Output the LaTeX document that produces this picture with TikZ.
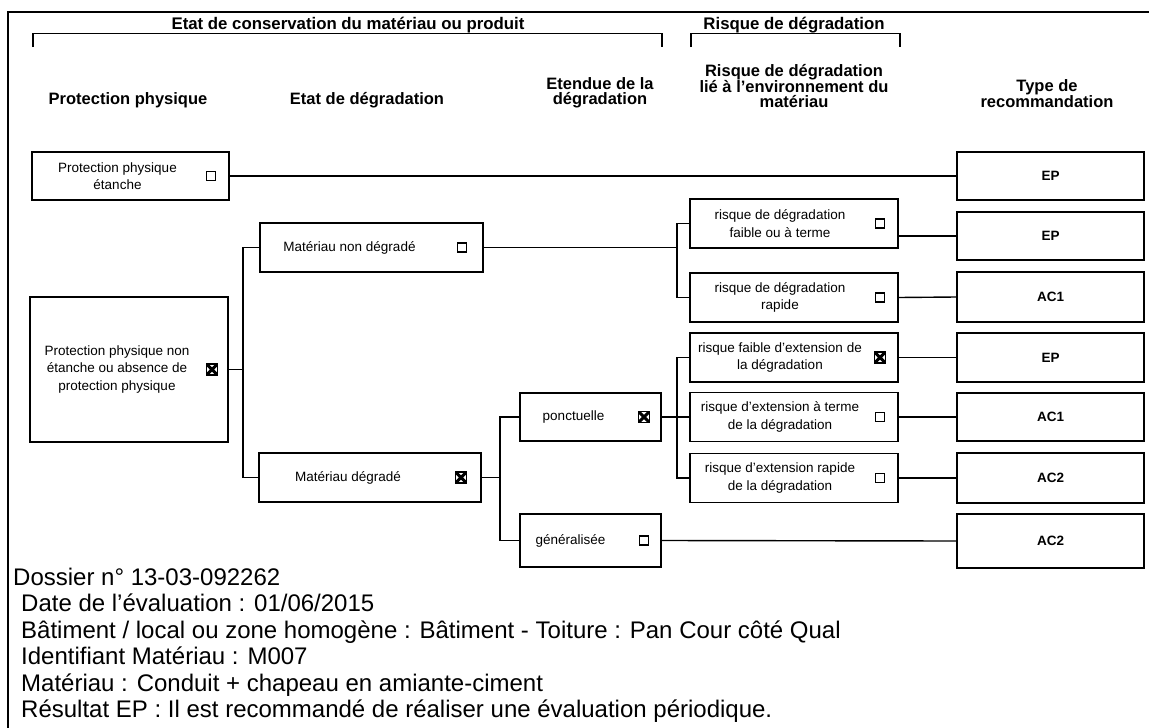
\documentclass[tikz,border=0pt]{standalone}
\usepackage{fontspec}
\setmainfont{Liberation Sans}
\usetikzlibrary{positioning,calc}

\newcommand{\fsz}[2]{\fontsize{#1}{#2}\selectfont}

\begin{document}
\begin{tikzpicture}[x=1pt, y=-1pt,
  box/.style={draw, line width=1.8pt, inner sep=0pt},
  txt/.style={font=\fsz{13.5}{17.5}, align=center, inner sep=0pt},
  head/.style={font=\bfseries\fsz{16.5}{15}, align=center, inner sep=0pt, anchor=south},
  rec/.style={box, minimum width=187pt, font=\bfseries\fsz{13.5}{15}},
  chk/.style={draw, line width=1.6pt, minimum size=9pt, inner sep=0pt},
  chkx/.style={chk, minimum size=11pt, path picture={\draw[line width=3pt]
    (path picture bounding box.south west) -- (path picture bounding box.north east)
    (path picture bounding box.north west) -- (path picture bounding box.south east);}},
  wire/.style={line width=1.4pt}]
 \useasboundingbox (0,0) rectangle (1149,728);

 % Frame
 \draw[wire] (8,728) -- (8,12) -- (1149,12);

 % Group titles
 \node[font=\bfseries\fsz{16.8}{16}, inner sep=0pt] (grpetat) at (348,25) {Etat de conservation du matériau ou produit};
 \node[font=\bfseries\fsz{16.8}{16}, inner sep=0pt] (grprisq) at (794,25) {Risque de dégradation};
 \draw[wire] (33,47) -- (33,33.5) -- (662,33.5) -- (662,47);
 \draw[wire] (691,47) -- (691,33.5) -- (900,33.5) -- (900,47);

 % Column headers
 \node[head] (hprot) at (128,108) {Protection physique};
 \node[head] (hetat) at (367,108) {Etat de dégradation};
 \node[head] (hext) at (600,108) {Etendue de la\\dégradation};
 \node[head] (henv) at (794,108) {Risque de dégradation\\lié à l'environnement du\\matériau};
 \node[head] (htype) at (1047,108) {Type de\\recommandation};

 % Protection physique
 \node[box, minimum width=197pt, minimum height=48pt] (pe) at (130.5,176) {};
 \node[txt] (pet) at ([xshift=-13pt]pe.center) {Protection physique\\étanche};
 \node[chk] (pec) at ([xshift=-19pt]pe.east) {};
 \node[box, minimum width=198pt, minimum height=145pt] (pne) at (129,369.5) {};
 \node[txt] (pnet) at ([xshift=-12pt]pne.center) {Protection physique non\\étanche ou absence de\\protection physique};
 \node[chkx] (pnec) at ([xshift=-17pt]pne.east) {};

 % Etat de degradation
 \node[box, minimum width=223pt, minimum height=49pt] (nd) at (371.5,247.5) {};
 \node[txt] (ndt) at ([xshift=-22pt]nd.center) {Matériau non dégradé};
 \node[chk] (ndc) at ([xshift=-22pt]nd.east) {};
 \node[box, minimum width=222pt, minimum height=49pt] (dg) at (370,477.5) {};
 \node[txt] (dgt) at ([xshift=-22pt]dg.center) {Matériau dégradé};
 \node[chkx] (dgc) at ([xshift=-21pt]dg.east) {};

 % Etendue
 \node[box, minimum width=141pt, minimum height=48pt] (pc) at (590.5,417) {};
 \node[txt] (pct) at ([xshift=-17pt]pc.center) {ponctuelle};
 \node[chkx] (pcc) at ([xshift=-18pt]pc.east) {};
 \node[box, minimum width=141pt, minimum height=53pt] (gn) at (590.5,540.5) {};
 \node[txt] (gnt) at ([xshift=-20pt]gn.center) {généralisée};
 \node[chk] (gnc) at ([xshift=-18pt]gn.east) {};

 % Risque lie a l'environnement
 \foreach \n/\y/\t in {r1/223.5/{risque de dégradation\\faible ou à terme},
                       r2/297.5/{risque de dégradation\\rapide},
                       r3/357.5/{risque faible d'extension de\\la dégradation},
                       r4/417/{risque d'extension à terme\\de la dégradation},
                       r5/478/{risque d'extension rapide\\de la dégradation}}{
   \node[box, minimum width=208pt, minimum height=49pt] (\n) at (794,\y) {};
   \node[txt] (\n t) at ([xshift=-14pt]\n.center) {\t};
 }
 \node[chk] (r1c) at ([xshift=-19pt]r1.east) {};
 \node[chk] (r2c) at ([xshift=-19pt]r2.east) {};
 \node[chkx] (r3c) at ([xshift=-19pt]r3.east) {};
 \node[chk] (r4c) at ([xshift=-19pt]r4.east) {};
 \node[chk] (r5c) at ([xshift=-19pt]r5.east) {};

 % Type de recommandation
 \node[rec, minimum height=48pt] (e1) at (1050.5,176) {EP};
 \node[rec, minimum height=48pt] (e2) at (1050.5,236) {EP};
 \node[rec, minimum height=50pt] (a1) at (1050.5,297) {AC1};
 \node[rec, minimum height=49pt] (e3) at (1050.5,357.5) {EP};
 \node[rec, minimum height=48pt] (a1b) at (1050.5,417) {AC1};
 \node[rec, minimum height=50pt] (a2) at (1050.5,478) {AC2};
 \node[rec, minimum height=54pt] (a2b) at (1050.5,541) {AC2};

 % Connectors
 \coordinate (busa) at (243,0);
 \coordinate (busb) at (500,0);
 \coordinate (busc) at (677,0);
 \draw[wire] (pe.east) -- (e1.west);
 \draw[wire] (pne.east) -- (pne.east -| busa);
 \draw[wire] (nd.west) -| (busa |- dg.west) -- (dg.west);
 \draw[wire] (dg.east) -- (dg.east -| busb);
 \draw[wire] (pc.west) -| (busb |- gn.west) -- (gn.west);
 \draw[wire] (nd.east) -- (nd.east -| busc);
 \draw[wire] (r1.west) -| (busc |- r2.west) -- (r2.west);
 \draw[wire] (pc.east) -- (pc.east -| busc);
 \draw[wire] (r3.west) -| (busc |- r5.west) -- (r5.west);
 \draw[wire] (busc |- r4.west) -- (r4.west);
 \draw[wire] (r1.east |- e2.west) -- (e2.west);
 \draw[wire] (r2.east) -- (a1.west);
 \draw[wire] (r3.east) -- (e3.west);
 \draw[wire] (r4.east) -- (a1b.west);
 \draw[wire] (r5.east) -- (a2.west);
 \draw[wire] (gn.east) -- (a2b.west);

 % Dossier details
 \node[anchor=north west, align=left, inner sep=0pt, font=\fsz{24}{26.4}] (info) at (13,568) {%
   Dossier n° 13-03-092262\\
   \hspace*{8pt}Date de l'évaluation : 01/06/2015\\
   \hspace*{8pt}Bâtiment / local ou zone homogène : Bâtiment - Toiture : Pan Cour côté Qual\\
   \hspace*{8pt}Identifiant Matériau : M007\\
   \hspace*{8pt}Matériau : Conduit + chapeau en amiante-ciment\\
   \hspace*{8pt}Résultat EP : Il est recommandé de réaliser une évaluation périodique.};
\end{tikzpicture}
\end{document}
